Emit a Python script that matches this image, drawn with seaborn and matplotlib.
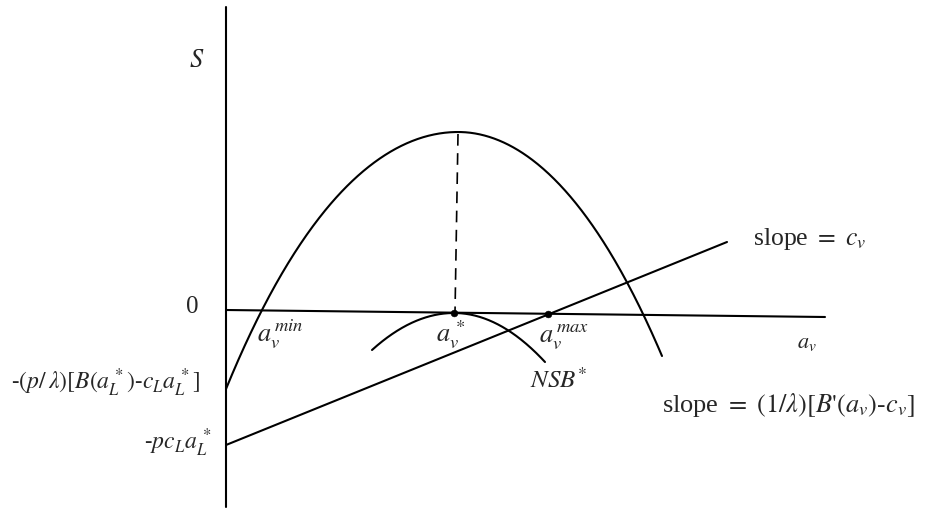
import numpy as np
import pandas as pd
import matplotlib
matplotlib.use("Agg")
import matplotlib.pyplot as plt
import seaborn as sns

# Surplus curve S(a_v): left end, a_v^min, peak, right root, right end
s_x = [0.00, 0.36, 2.32, 4.18, 4.36]
s_y = [-0.77, 0.02, 1.80, -0.04, -0.44]

# Cost line with slope c_v
cost_x = [0.00, 5.01]
cost_y = [-1.33, 0.70]

# NSB* arc: left end, top (at a_v*), right end
nsb_x = [1.46, 2.28, 3.19]
nsb_y = [-0.38, -0.01, -0.50]

# Marked points on the a_v axis
pt_names = ["a_v*", "a_v^max"]
pt_x = [2.28, 3.22]
pt_y = [-0.01, -0.018]

# Axes of the diagram
haxis_x = [0.00, 5.99]
haxis_y = [0.02, -0.05]
vaxis_x = [0.00, 0.00]
vaxis_y = [3.05, -1.95]

# Dashed drop from the peak to a_v*
drop_x = [2.32, 2.29]
drop_y = [1.78, -0.01]


def hump(xs, ys, n=300):
    """Smooth hump through a peak with two anchor points on each side."""
    x0, x1, xp, x2, x3 = xs
    y0, y1, yp, y2, y3 = ys
    out_x, out_y = [], []
    for (xa, ya), (xb, yb), grid in (
        ((x1, y1), (x0, y0), np.linspace(x0, xp, n)),
        ((x2, y2), (x3, y3), np.linspace(xp, x3, n)),
    ):
        da, db = xa - xp, xb - xp
        A = np.array([[da**2, da**4], [db**2, db**4]])
        a, b = np.linalg.solve(A, [yp - ya, yp - yb])
        d = grid - xp
        out_x.append(grid)
        out_y.append(yp - a * d**2 - b * d**4)
    return np.concatenate(out_x), np.concatenate(out_y)


def arc(xs, ys, n=200):
    """Inverted parabola pieces meeting at the top point."""
    xl, xp, xr = xs
    yl, yp, yr = ys
    kl = (yp - yl) / (xp - xl) ** 2
    kr = (yp - yr) / (xr - xp) ** 2
    gl = np.linspace(xl, xp, n)
    gr = np.linspace(xp, xr, n)
    return (np.concatenate([gl, gr]),
            np.concatenate([yp - kl * (gl - xp) ** 2, yp - kr * (gr - xp) ** 2]))


sns.set_theme(style="white")
plt.rcParams["font.family"] = ["Liberation Serif", "DejaVu Serif"]
plt.rcParams["mathtext.fontset"] = "stix"

fig = plt.figure(figsize=(9.29, 5.10), dpi=100)
ax = fig.add_axes([0, 0, 1, 1])
ax.set_xlim(-2.26, 7.03)
ax.set_ylim(-1.97, 3.13)
ax.axis("off")

ink = "black"
lw = 1.5

# axes
sns.lineplot(x=vaxis_x, y=vaxis_y, sort=False, estimator=None, color=ink, lw=lw, ax=ax)
sns.lineplot(x=haxis_x, y=haxis_y, sort=False, estimator=None, color=ink, lw=lw, ax=ax)

# surplus curve
sx, sy = hump(s_x, s_y)
sns.lineplot(x=sx, y=sy, sort=False, estimator=None, color=ink, lw=lw, ax=ax)

# cost line
sns.lineplot(x=cost_x, y=cost_y, sort=False, estimator=None, color=ink, lw=lw, ax=ax)

# NSB* arc
nx, ny = arc(nsb_x, nsb_y)
sns.lineplot(x=nx, y=ny, sort=False, estimator=None, color=ink, lw=lw, ax=ax)

# dashed drop line
ax.plot(drop_x, drop_y, color=ink, lw=1.2, linestyle=(0, (7, 4.5)))

# points
sns.scatterplot(x=pt_x, y=pt_y, color=ink, s=24, edgecolor=None, ax=ax, zorder=5)

ax.text(-0.29, 2.52, r"$S$", fontsize=19, ha="center", va="center")
ax.text(-0.34, 0.06, "0", fontsize=18, ha="center", va="center")
ax.text(-0.26, -0.70, r"$\text{-}(p/\,\lambda)[B(a_L^{\,*})\text{-}c_La_L^{\,*}]$",
        fontsize=17, ha="right", va="center")
ax.text(-0.14, -1.30, r"$\text{-}pc_La_L^{\,*}$", fontsize=17, ha="right", va="center")
ax.text(0.31, -0.21, r"$a_v^{\,min}$", fontsize=19, ha="left", va="center")
ax.text(2.10, -0.22, r"$a_v^{\,*}$", fontsize=19, ha="left", va="center")
ax.text(3.13, -0.24, r"$a_v^{\,max}$", fontsize=19, ha="left", va="center")
ax.text(3.04, -0.67, r"$NSB^{*}$", fontsize=18, ha="left", va="center")
ax.text(5.71, -0.31, r"$a_v$", fontsize=16, ha="left", va="center")
ax.text(5.27, 0.74, r"slope $=$ $c_v$", fontsize=18.5, ha="left", va="center")
ax.text(4.36, -0.92, r"slope $=$ $(1/\lambda)[B\text{'}(a_v)\text{-}c_v]$",
        fontsize=19, ha="left", va="center")

fig.savefig("out.png", dpi=100, facecolor="white")
